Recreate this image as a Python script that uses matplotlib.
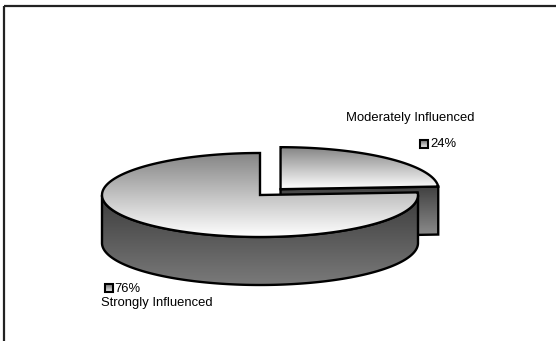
import numpy as np
import matplotlib
matplotlib.use("Agg")
import matplotlib.pyplot as plt
from matplotlib.patches import Polygon, Rectangle
from matplotlib.colors import LinearSegmentedColormap

plt.rcParams['font.family'] = ['Liberation Sans', 'DejaVu Sans']

categories = ["Moderately Influenced", "Strongly Influenced"]
shares = [24, 76]
explode = [0.19, 0.0]

# layout of the 3-D pie (pixel space)
CX, CY = 260.0, 195.0
RX, RY = 158.0, 42.0
DEPTH = 48.0
START = 90.0  # first slice starts at 12 o'clock, drawn clockwise

fig = plt.figure(figsize=(5.56, 3.41), dpi=100)
ax = fig.add_axes([0, 0, 1, 1])
ax.set_xlim(0, 556)
ax.set_ylim(341, 0)
ax.axis("off")

top_cmap = LinearSegmentedColormap.from_list("top", ["#858585", "#ffffff"])
side_cmap = LinearSegmentedColormap.from_list("side", ["#3c3c3c", "#7a7a7a"])
cut_cmap = LinearSegmentedColormap.from_list("cut", ["#404040", "#8e8e8e"])


def pt(c, t, z=0.0):
    r = np.radians(t)
    return (c[0] + RX * np.cos(r), c[1] - RY * np.sin(r) + z)


def shade(points, cmap, z):
    pts = np.asarray(points)
    poly = Polygon(pts, closed=True, facecolor="none", edgecolor="black",
                   lw=1.7, joinstyle="miter", zorder=z + 0.5)
    ax.add_patch(poly)
    x0, x1 = pts[:, 0].min(), pts[:, 0].max()
    y0, y1 = pts[:, 1].min(), pts[:, 1].max()
    grad = np.linspace(0, 1, 256).reshape(-1, 1)
    im = ax.imshow(grad, cmap=cmap, aspect="auto", extent=[x0, x1, y1, y0],
                   interpolation="bilinear", zorder=z)
    im.set_clip_path(poly)


# slice angle ranges (clockwise from the top)
total = float(sum(shares))
slices = []
a = START
for name, v, e in zip(categories, shares, explode):
    sweep = 360.0 * v / total
    t1, t2 = a - sweep, a
    mid = np.radians((t1 + t2) / 2)
    c = (CX + e * RX * np.cos(mid), CY - e * RY * np.sin(mid))
    slices.append((name, v, t1, t2, c))
    a -= sweep

# back slices first
order = sorted(range(len(slices)), key=lambda i: slices[i][4][1])
z = 1
for i in order:
    name, v, t1, t2, c = slices[i]
    # radial cut faces facing the viewer
    for t, vis in ((t1, np.cos(np.radians(t1)) > 1e-6),
                   (t2, np.cos(np.radians(t2)) < -1e-6)):
        if vis:
            p = pt(c, t)
            shade([c, p, (p[0], p[1] + DEPTH), (c[0], c[1] + DEPTH)], cut_cmap, z)
            z += 1
    # outer wall: the front half of the rim
    ts = np.linspace(t1, t2, 400)
    front = ts[np.sin(np.radians(ts)) < 0]
    if front.size:
        top_arc = [pt(c, t) for t in front]
        bot_arc = [pt(c, t, DEPTH) for t in front[::-1]]
        shade(top_arc + bot_arc, side_cmap, z)
        z += 1
    # top face
    arc = [pt(c, t) for t in np.linspace(t1, t2, 300)]
    shade([c] + arc, top_cmap, z)
    z += 1

# figure frame
ax.add_patch(Rectangle((3.5, 6.0), 600, 400, fill=False, edgecolor="#222222",
                       lw=1.6, zorder=50))

key_cmap = LinearSegmentedColormap.from_list("key", ["#707070", "#eeeeee"])


def key_box(x, y):
    grad = np.linspace(0, 1, 32).reshape(-1, 1)
    ax.imshow(grad, cmap=key_cmap, aspect="auto", extent=[x, x + 8, y + 8, y],
              zorder=60)
    ax.add_patch(Rectangle((x, y), 8, 8, fill=False, edgecolor="black",
                           lw=1.5, zorder=61))


fs = 9.4
# labels
ax.text(346, 118, categories[0], fontsize=fs, ha="left", va="center", zorder=70)
key_box(420, 140)
ax.text(430, 144, f"{shares[0]}%", fontsize=fs, ha="left", va="center", zorder=70)
key_box(105, 284)
ax.text(114.5, 289, f"{shares[1]}%", fontsize=fs, ha="left", va="center", zorder=70)
ax.text(101, 303, categories[1], fontsize=fs, ha="left", va="center", zorder=70)

fig.savefig("out.png", dpi=100, facecolor="white")
